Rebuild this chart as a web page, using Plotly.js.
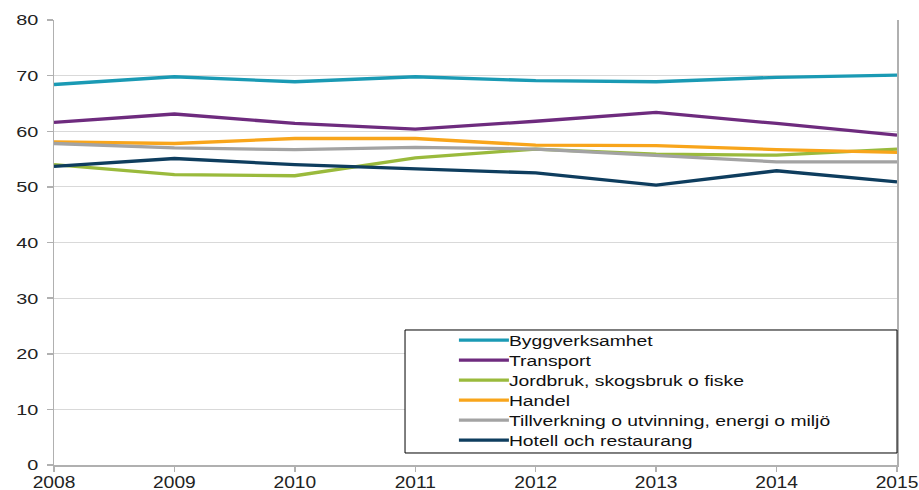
<!DOCTYPE html>
<html>
<head>
<meta charset="utf-8">
<script src="https://cdn.plot.ly/plotly-3.0.1.min.js"></script>
<style>html,body{margin:0;padding:0;background:#fff;}#chart{width:919px;height:490px;}</style>
</head>
<body>
<div id="chart"></div>
<script>
const years = [2008, 2009, 2010, 2011, 2012, 2013, 2014, 2015];
const seriesNames = ["Byggverksamhet", "Transport", "Jordbruk, skogsbruk o fiske", "Handel", "Tillverkning o utvinning, energi o miljö", "Hotell och restaurang"];
const byggverksamhet = [68.4, 69.8, 68.9, 69.8, 69.1, 68.9, 69.7, 70.1];
const transport = [61.6, 63.1, 61.4, 60.4, 61.8, 63.4, 61.4, 59.3];
const jordbruk = [54.0, 52.2, 52.0, 55.2, 56.8, 55.9, 55.7, 56.8];
const handel = [58.1, 57.8, 58.7, 58.7, 57.5, 57.4, 56.7, 56.2];
const tillverkning = [57.8, 57.0, 56.7, 57.1, 56.8, 55.7, 54.5, 54.5];
const hotell = [53.7, 55.1, 54.0, 53.3, 52.5, 50.3, 52.9, 50.9];
const yTicks = [0, 10, 20, 30, 40, 50, 60, 70, 80];
const colors = ["#1a9ab4", "#6e2b7e", "#9aba3c", "#f8a51b", "#a3a3a3", "#0e3d5e"];

const allSeries = [byggverksamhet, transport, jordbruk, handel, tillverkning, hotell];
const traces = allSeries.map((vals, i) => ({
  x: years, y: vals, name: seriesNames[i], type: "scatter", mode: "lines",
  line: {color: colors[i], width: 3.3}
}));

const layout = {
  width: 919, height: 490,
  margin: {l: 54, r: 22, t: 20, b: 25},
  paper_bgcolor: "#fff", plot_bgcolor: "#fff",
  font: {family: "Liberation Sans, Arial, sans-serif", size: 16, color: "#222"},
  showlegend: true,
  xaxis: {
    range: [2008, 2015], tickvals: years, ticktext: years.map(String),
    showgrid: false, zeroline: false, showline: true, linecolor: "#b0b0b0", linewidth: 1.5,
    ticks: "outside", ticklen: 5, tickcolor: "#b0b0b0", tickwidth: 1.5,
    ticklabelstandoff: -3,
    tickfont: {size: 16, color: "#222"}
  },
  yaxis: {
    range: [0, 80], tickvals: yTicks,
    showgrid: true, gridcolor: "#d9d9d9", gridwidth: 1, zeroline: false,
    showline: true, linecolor: "#b0b0b0", linewidth: 1.5, mirror: true,
    ticks: "outside", ticklen: 6, tickcolor: "#b0b0b0", tickwidth: 1.5,
    ticklabelstandoff: 5,
    tickfont: {size: 15.5, color: "#222"}
  },
  legend: {
    x: 0.4744, y: 0.3157, xanchor: "left", yanchor: "top",
    bgcolor: "rgba(0,0,0,0)", borderwidth: 0,
    font: {size: 14, color: "#111"}, tracegroupgap: 0, itemwidth: 50
  },
  shapes: [{
    type: "rect", xref: "paper", yref: "paper",
    x0: 0.4164, x1: 1.0, y0: 0.027, y1: 0.3034,
    line: {color: "#000", width: 1}, fillcolor: "#fff", layer: "above"
  }]
};

function stretch(sel, s, dx) {
  document.querySelectorAll(sel).forEach(t => {
    let x = parseFloat(t.getAttribute("x")) || 0;
    if (dx) { x += dx; t.setAttribute("x", x); }
    const prev = t.getAttribute("transform") || "";
    t.setAttribute("transform", prev + " translate(" + x + ",0) scale(" + s + ",1) translate(" + (-x) + ",0)");
  });
}

Plotly.newPlot("chart", traces, layout, {displayModeBar: false, staticPlot: true}).then(() => {
  const leg = document.querySelector("#chart .legend");
  if (leg) {
    leg.querySelectorAll("[clip-path]").forEach(el => el.removeAttribute("clip-path"));
    leg.querySelectorAll(".legendlines path").forEach(p => p.setAttribute("d", "M5,0h50"));
    const items = leg.querySelectorAll("g.traces");
    let y0 = null;
    items.forEach((g, i) => {
      const tr = g.getAttribute("transform") || "";
      const m = tr.match(/translate\(\s*([-\d.e]+)[\s,]*([-\d.e]+)?\s*\)/);
      const a = m ? parseFloat(m[1]) : 0;
      const b = m && m[2] ? parseFloat(m[2]) : 0;
      if (y0 === null) y0 = b;
      g.setAttribute("transform", "translate(" + a + "," + (y0 + i * 20) + ")");
    });
  }
  stretch("#chart .legendtext", 1.38, -5);
  stretch("#chart g.xtick text", 1.2, 0);
  stretch("#chart g.ytick text", 1.28, 0);
});
</script>
</body>
</html>
